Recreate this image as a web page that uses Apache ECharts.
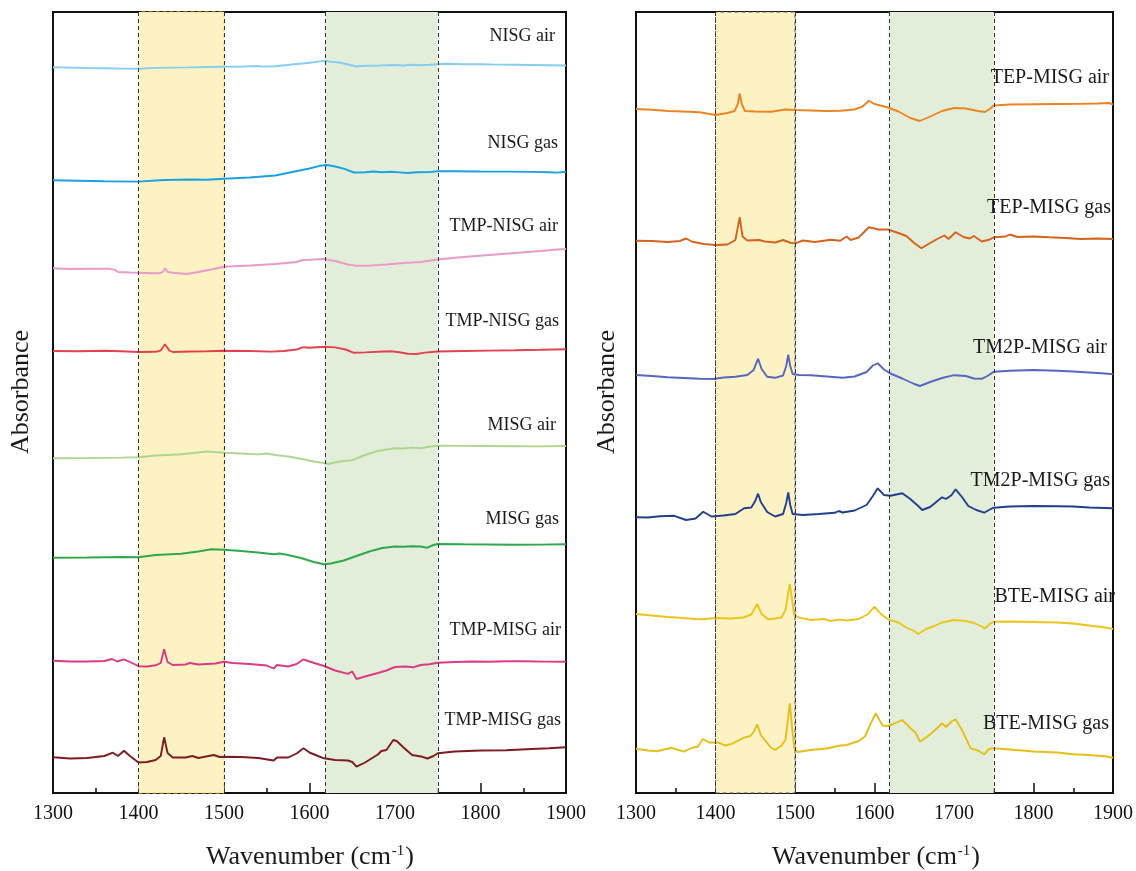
<!DOCTYPE html>
<html>
<head>
<meta charset="utf-8">
<title>FTIR spectra</title>
<script src="https://cdn.jsdelivr.net/npm/echarts@6/dist/echarts.min.js"></script>
<style>
  html, body { margin: 0; padding: 0; background: #ffffff; }
  #chart { width: 1136px; height: 871px; }
</style>
</head>
<body>
<div id="chart"></div>
<script>
// Stacked FTIR absorbance spectra (arbitrary units, each trace offset vertically).
// Points are [wavenumber (cm-1), absorbance].

// ---- Left panel ----
const nisgAir = [[1300,725.7],[1320,725.4],[1340,725.0],[1360,724.7],[1380,724.4],[1400,724.3],[1420,725.1],[1440,725.4],[1460,725.6],[1480,726.0],[1500,726.2],[1520,726.4],[1540,727.0],[1545,726.4],[1560,726.7],[1580,728.5],[1600,730.2],[1610,731.4],[1618,732.3],[1625,731.2],[1635,730.5],[1645,728.5],[1655,726.5],[1660,727.0],[1670,727.2],[1680,727.4],[1690,727.7],[1700,728.0],[1710,727.5],[1720,728.3],[1730,727.8],[1740,728.2],[1750,728.8],[1760,729.2],[1780,728.8],[1800,728.7],[1820,728.4],[1840,728.2],[1860,728.0],[1880,727.8],[1900,727.5]];
const nisgGas = [[1300,612.7],[1330,612.2],[1360,611.7],[1400,611.4],[1430,613.0],[1460,613.5],[1480,613.2],[1500,614.2],[1530,615.5],[1560,617.5],[1580,621.0],[1600,624.5],[1612,627.2],[1620,628.0],[1630,626.5],[1640,624.3],[1652,620.5],[1665,620.8],[1675,621.5],[1685,620.7],[1695,621.2],[1705,620.6],[1715,620.0],[1725,620.8],[1740,620.9],[1750,621.8],[1770,621.7],[1800,621.5],[1830,621.4],[1860,621.1],[1880,620.8],[1890,620.4],[1900,621.2]];
const tmpNisgAir = [[1300,524.7],[1320,524.0],[1340,524.3],[1365,524.3],[1372,523.4],[1376,521.0],[1390,520.5],[1400,520.3],[1415,519.8],[1425,519.8],[1429,521.5],[1431,524.7],[1434,521.0],[1440,520.2],[1450,519.5],[1456,519.0],[1470,521.0],[1485,523.5],[1500,526.2],[1530,527.5],[1560,529.0],[1585,531.0],[1592,533.0],[1600,533.2],[1617,534.0],[1630,532.0],[1645,528.5],[1655,527.2],[1670,527.4],[1690,528.5],[1710,530.0],[1730,531.0],[1750,533.5],[1780,536.0],[1810,538.0],[1840,540.0],[1870,542.0],[1890,543.5],[1900,544.0]];
const tmpNisgGas = [[1300,442.0],[1330,441.7],[1360,442.2],[1380,441.8],[1400,441.0],[1420,441.2],[1426,442.5],[1431,448.7],[1436,442.5],[1440,441.0],[1460,441.5],[1480,441.7],[1500,442.2],[1530,442.0],[1555,441.4],[1570,442.0],[1585,443.5],[1593,445.8],[1600,445.2],[1617,446.2],[1630,445.6],[1642,443.5],[1652,440.2],[1665,440.6],[1680,441.2],[1695,441.7],[1705,440.8],[1715,439.2],[1725,439.0],[1735,440.4],[1750,441.5],[1780,442.0],[1810,442.4],[1840,442.7],[1870,443.2],[1900,443.8]];
const misgAir = [[1300,334.7],[1340,335.0],[1380,335.4],[1400,335.7],[1420,337.5],[1450,338.8],[1470,340.5],[1480,341.5],[1500,340.2],[1520,339.5],[1540,338.6],[1550,339.5],[1560,338.0],[1575,336.5],[1590,334.2],[1605,331.5],[1617,330.0],[1622,329.0],[1632,331.0],[1640,332.0],[1650,332.8],[1655,334.5],[1665,338.0],[1680,342.0],[1690,343.5],[1700,344.7],[1710,344.5],[1720,345.4],[1730,344.8],[1740,346.2],[1750,347.2],[1780,347.1],[1810,347.0],[1840,346.8],[1870,346.6],[1900,347.0]];
const misgGas = [[1300,235.3],[1340,235.5],[1380,236.0],[1400,235.8],[1420,238.0],[1450,239.3],[1470,241.5],[1485,243.7],[1500,243.2],[1520,242.0],[1540,240.5],[1558,238.8],[1565,239.5],[1575,238.0],[1590,235.0],[1605,231.0],[1617,228.7],[1625,229.5],[1640,232.5],[1655,237.0],[1670,241.5],[1685,245.0],[1700,246.5],[1710,246.3],[1720,246.8],[1730,246.5],[1737,245.2],[1745,248.0],[1750,249.0],[1780,248.7],[1810,248.5],[1840,248.2],[1870,248.4],[1900,248.8]];
const tmpMisgAir = [[1300,132.3],[1320,131.5],[1340,131.5],[1360,132.0],[1369,134.0],[1375,131.5],[1383,133.7],[1390,131.0],[1400,126.8],[1410,126.5],[1420,127.7],[1426,130.0],[1430,143.7],[1434,131.0],[1440,128.0],[1455,128.5],[1460,130.0],[1470,128.5],[1490,129.5],[1500,131.2],[1510,130.0],[1530,129.0],[1550,127.5],[1558,124.5],[1562,128.0],[1575,126.5],[1585,129.0],[1593,133.7],[1600,131.5],[1617,127.0],[1630,122.5],[1645,119.2],[1650,121.5],[1655,114.0],[1665,116.5],[1680,120.0],[1690,122.5],[1700,126.0],[1712,126.5],[1722,125.8],[1730,128.0],[1740,128.8],[1750,130.3],[1770,131.0],[1790,131.5],[1810,131.2],[1830,131.7],[1850,131.8],[1875,131.4],[1900,131.3]];
const tmpMisgGas = [[1300,35.7],[1320,34.5],[1340,35.0],[1360,37.0],[1370,40.3],[1376,37.0],[1383,42.3],[1390,37.0],[1400,30.5],[1410,31.0],[1420,33.0],[1426,37.0],[1430,55.7],[1434,40.0],[1440,35.5],[1455,35.5],[1463,37.0],[1470,35.0],[1488,38.0],[1495,36.0],[1500,36.3],[1520,36.0],[1540,35.0],[1558,32.5],[1562,35.5],[1575,35.5],[1585,39.5],[1593,44.7],[1600,40.5],[1610,37.0],[1617,34.7],[1630,33.0],[1645,32.5],[1650,31.0],[1655,26.3],[1665,30.5],[1680,38.5],[1684,42.0],[1690,43.0],[1698,53.0],[1702,52.0],[1710,45.5],[1720,38.0],[1732,36.2],[1738,34.5],[1745,37.0],[1750,39.7],[1770,41.5],[1800,42.5],[1830,42.8],[1860,44.0],[1880,44.7],[1900,45.7]];

// ---- Right panel ----
const tepMisgAir = [[1300,684.0],[1320,683.2],[1340,682.0],[1360,681.5],[1380,680.7],[1400,678.0],[1415,680.0],[1424,682.0],[1428,689.0],[1430.5,699.7],[1433,689.0],[1437,682.0],[1450,681.5],[1470,681.2],[1488,683.5],[1500,683.0],[1520,682.5],[1540,682.0],[1557,682.2],[1575,683.5],[1585,686.5],[1593,692.3],[1600,689.0],[1617,685.5],[1630,681.5],[1645,675.0],[1657,672.0],[1670,676.5],[1685,682.0],[1700,685.0],[1715,684.5],[1730,682.0],[1739,681.0],[1745,684.0],[1750,687.5],[1770,688.5],[1800,688.8],[1830,689.0],[1860,689.2],[1880,689.5],[1895,690.0],[1900,688.5]];
const tepMisgGas = [[1300,552.3],[1320,552.0],[1340,551.0],[1355,552.0],[1363,554.5],[1370,551.5],[1385,549.0],[1400,548.0],[1415,548.5],[1425,553.0],[1430.5,575.7],[1434,556.5],[1440,552.5],[1455,553.0],[1462,551.5],[1475,550.5],[1485,553.0],[1495,550.0],[1500,549.7],[1510,552.5],[1525,551.0],[1545,553.2],[1557,552.2],[1565,556.5],[1570,553.0],[1580,555.5],[1593,565.7],[1605,563.5],[1617,563.5],[1630,560.0],[1640,557.0],[1650,550.0],[1659,544.7],[1670,550.0],[1680,554.5],[1688,557.5],[1693,554.0],[1702,560.7],[1712,556.0],[1720,554.5],[1725,557.0],[1735,551.5],[1745,553.5],[1750,555.7],[1765,556.5],[1770,558.5],[1780,556.0],[1800,556.5],[1820,555.7],[1840,555.0],[1860,554.0],[1880,554.5],[1900,554.0]];
const tm2pMisgAir = [[1300,418.0],[1320,417.0],[1340,415.7],[1360,415.0],[1380,414.3],[1397,414.0],[1410,415.5],[1425,416.2],[1440,418.0],[1448,423.0],[1453.5,434.3],[1458,424.0],[1465,416.2],[1475,415.2],[1485,417.5],[1489,427.0],[1491.5,438.3],[1494,427.0],[1497,419.0],[1505,418.0],[1520,417.7],[1540,416.5],[1560,415.3],[1575,416.5],[1590,421.0],[1598,427.5],[1604,429.7],[1612,423.5],[1620,419.5],[1635,414.5],[1650,409.0],[1657,407.0],[1670,411.0],[1685,415.0],[1700,417.8],[1715,417.0],[1725,414.5],[1735,414.2],[1742,417.0],[1750,421.3],[1770,422.2],[1800,423.0],[1830,422.2],[1850,421.5],[1870,420.5],[1890,419.5],[1900,418.7]];
const tm2pMisgGas = [[1300,275.7],[1315,275.5],[1330,276.7],[1348,277.2],[1363,273.0],[1375,274.5],[1384.5,281.3],[1395,276.5],[1410,277.5],[1425,279.0],[1436,284.7],[1445,285.5],[1450,292.0],[1453.5,299.3],[1457,291.0],[1465,281.0],[1475,276.5],[1485,279.0],[1489,290.0],[1491.5,300.7],[1494,288.0],[1497,279.0],[1510,278.0],[1530,279.0],[1550,280.2],[1555,282.0],[1560,280.5],[1575,282.5],[1590,288.0],[1598,297.0],[1604,304.7],[1612,298.0],[1620,297.2],[1635,299.7],[1645,294.0],[1655,287.0],[1660,283.0],[1670,286.0],[1680,292.5],[1685,295.7],[1690,294.0],[1697,298.0],[1702,303.7],[1710,296.0],[1718,287.0],[1728,283.0],[1738,280.3],[1745,283.5],[1750,285.3],[1770,286.5],[1800,287.0],[1830,286.7],[1850,286.5],[1870,285.5],[1900,284.7]];
const bteMisgAir = [[1300,179.0],[1320,177.5],[1340,176.0],[1360,175.0],[1375,174.0],[1384,173.7],[1400,175.0],[1420,174.5],[1435,175.5],[1445,178.5],[1452.5,189.0],[1458,179.0],[1466,173.7],[1475,174.5],[1483,175.5],[1488,183.0],[1491,198.0],[1493.5,209.0],[1496,195.0],[1499,178.0],[1505,175.5],[1520,173.0],[1536,174.0],[1545,172.0],[1556,173.5],[1565,172.5],[1580,174.0],[1592,179.0],[1600,186.3],[1608,179.0],[1617,173.7],[1630,170.5],[1640,165.5],[1650,162.0],[1655,159.0],[1665,164.0],[1675,167.0],[1685,170.5],[1700,173.0],[1715,172.0],[1725,170.0],[1735,166.5],[1739,164.7],[1745,169.0],[1750,171.3],[1770,171.5],[1800,171.0],[1830,170.5],[1850,169.5],[1870,167.5],[1890,165.5],[1900,164.0]];
const bteMisgGas = [[1300,44.3],[1315,42.5],[1326,41.7],[1345,45.2],[1360,41.3],[1370,45.0],[1378,46.5],[1384,54.0],[1392,50.5],[1404,50.3],[1412,47.5],[1420,49.0],[1436,55.3],[1444,57.0],[1448,61.0],[1452.5,68.7],[1457,58.0],[1463,52.0],[1470,45.0],[1475,43.0],[1483,47.5],[1488,53.0],[1491,73.0],[1493.5,89.7],[1496,68.0],[1499,45.0],[1503,41.0],[1520,43.0],[1540,44.5],[1557,47.5],[1565,48.0],[1580,52.0],[1588,56.5],[1595,69.0],[1601.5,79.7],[1610,67.5],[1617,67.0],[1625,69.5],[1635,73.0],[1645,65.0],[1652,60.0],[1657,51.3],[1665,55.5],[1675,62.0],[1685,69.7],[1690,66.0],[1697,71.5],[1702,73.7],[1710,63.0],[1721,44.7],[1730,42.5],[1738,38.7],[1744,44.0],[1750,44.7],[1770,43.5],[1800,41.5],[1830,40.5],[1850,38.7],[1870,38.0],[1890,36.7],[1900,35.3]];

const leftNames = ['NISG air', 'NISG gas', 'TMP-NISG air', 'TMP-NISG gas', 'MISG air', 'MISG gas', 'TMP-MISG air', 'TMP-MISG gas'];
const leftSpectra = [nisgAir, nisgGas, tmpNisgAir, tmpNisgGas, misgAir, misgGas, tmpMisgAir, tmpMisgGas];
const rightNames = ['TEP-MISG air', 'TEP-MISG gas', 'TM2P-MISG air', 'TM2P-MISG gas', 'BTE-MISG air', 'BTE-MISG gas'];
const rightSpectra = [tepMisgAir, tepMisgGas, tm2pMisgAir, tm2pMisgGas, bteMisgAir, bteMisgGas];

// Highlighted wavenumber ranges (cm-1)
const yellowBand = [1400, 1500];
const greenBand = [1618, 1750];

// ---- Styling ----
const leftColors = ['#86cdee', '#1ba1e2', '#e99ac8', '#e3414f', '#afd690', '#2fa84a', '#db3a84', '#7c1b20'];
const rightColors = ['#ec8424', '#d6621b', '#5667c0', '#213f8c', '#ecc41c', '#e6be18'];
const SERIF = '"Liberation Serif", "Times New Roman", serif';

// Label anchors (right edge x, centre y) in pixels
const leftLabelPos = [[555, 36], [558, 143], [558, 226], [559, 321], [556, 425], [559, 519], [561, 630], [561, 720]];
const rightLabelPos = [[1109, 78], [1111, 208], [1107, 348], [1110, 481], [1115, 597], [1109, 724]];

const chart = echarts.init(document.getElementById('chart'), null, { renderer: 'canvas' });

function xAxisFor(gridIndex) {
  return {
    type: 'value', gridIndex, min: 1300, max: 1900, interval: 100,
    axisLine: { show: true, onZero: false, lineStyle: { color: '#111', width: 2 } },
    axisTick: { show: true, inside: true, length: 10, lineStyle: { color: '#111', width: 1.5 } },
    minorTick: { show: true, splitNumber: 2, length: 5, lineStyle: { color: '#111', width: 1.5 } },
    axisLabel: {
      show: true, margin: 11, color: '#111', fontSize: 20, fontFamily: SERIF,
      showMinLabel: true, showMaxLabel: true, formatter: v => String(v)
    },
    splitLine: { show: false }, minorSplitLine: { show: false }
  };
}
function yAxisFor(gridIndex) {
  return {
    type: 'value', gridIndex, min: 0, max: 781,
    axisLine: { show: true, onZero: false, lineStyle: { color: '#111', width: 2 } },
    axisTick: { show: false }, axisLabel: { show: false }, splitLine: { show: false }
  };
}

function bandSeries(axisIndex, yellowBorder) {
  return {
    type: 'line', xAxisIndex: axisIndex, yAxisIndex: axisIndex, data: [], z: 1, silent: true,
    markArea: {
      silent: true,
      data: [
        [{ xAxis: yellowBand[0], itemStyle: { color: '#fcf2c3', borderColor: yellowBorder, borderWidth: 1, borderType: [4, 3] } }, { xAxis: yellowBand[1] }],
        [{ xAxis: greenBand[0], itemStyle: { color: '#e2eed9' } }, { xAxis: greenBand[1] }]
      ]
    },
    markLine: {
      silent: true, symbol: 'none', label: { show: false },
      lineStyle: { color: '#333', width: 1, type: [4, 3] },
      data: [{ xAxis: yellowBand[0] }, { xAxis: yellowBand[1] }, { xAxis: greenBand[0] }, { xAxis: greenBand[1] }]
    }
  };
}

const series = [bandSeries(0, '#f1d24a'), bandSeries(1, '#555555')];
leftSpectra.forEach((d, i) => series.push({
  name: leftNames[i], type: 'line', xAxisIndex: 0, yAxisIndex: 0, data: d, z: 3,
  showSymbol: false, symbol: 'none', lineStyle: { color: leftColors[i], width: 1.9 }
}));
rightSpectra.forEach((d, i) => series.push({
  name: rightNames[i], type: 'line', xAxisIndex: 1, yAxisIndex: 1, data: d, z: 3,
  showSymbol: false, symbol: 'none', lineStyle: { color: rightColors[i], width: 1.9 }
}));

const graphic = [];
leftNames.forEach((n, i) => graphic.push({
  type: 'text', x: leftLabelPos[i][0], y: leftLabelPos[i][1], z: 10,
  style: { text: n, fill: '#1a1a1a', font: '18px ' + SERIF, textAlign: 'right', textVerticalAlign: 'middle' }
}));
rightNames.forEach((n, i) => graphic.push({
  type: 'text', x: rightLabelPos[i][0], y: rightLabelPos[i][1], z: 10,
  style: { text: n, fill: '#1a1a1a', font: '20px ' + SERIF, textAlign: 'right', textVerticalAlign: 'middle' }
}));
[[21, 392], [607, 392]].forEach(p => graphic.push({
  type: 'text', x: p[0], y: p[1], rotation: Math.PI / 2, z: 10,
  style: { text: 'Absorbance', fill: '#1a1a1a', font: '26px ' + SERIF, textAlign: 'center', textVerticalAlign: 'middle' }
}));
[[310, 857], [876, 857]].forEach(p => graphic.push({
  type: 'text', x: p[0], y: p[1], z: 10,
  style: {
    text: 'Wavenumber (cm{sup|-1})', fill: '#1a1a1a', font: '26px ' + SERIF,
    textAlign: 'center', textVerticalAlign: 'middle',
    rich: { sup: { fontSize: 15, fontFamily: SERIF, fill: '#1a1a1a', verticalAlign: 'top', padding: [0, 1, 12, 1] } }
  }
}));

chart.setOption({
  animation: false,
  backgroundColor: '#ffffff',
  grid: [
    { left: 53, top: 12, width: 513, height: 781, show: true, borderColor: '#111', borderWidth: 2, backgroundColor: 'transparent' },
    { left: 636, top: 12, width: 477, height: 781, show: true, borderColor: '#111', borderWidth: 2, backgroundColor: 'transparent' }
  ],
  xAxis: [xAxisFor(0), xAxisFor(1)],
  yAxis: [yAxisFor(0), yAxisFor(1)],
  series,
  graphic
});
</script>
</body>
</html>
